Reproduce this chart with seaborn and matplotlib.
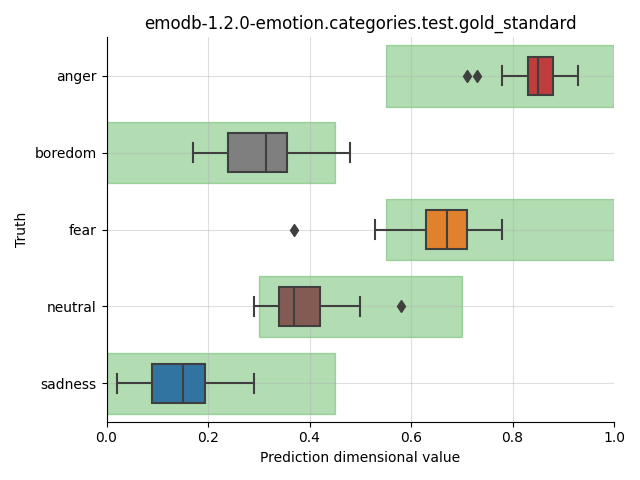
import numpy as np
import pandas as pd
import matplotlib
matplotlib.use('Agg')
import matplotlib.pyplot as plt
import seaborn as sns

# emotion categories (top to bottom)
categories = ['anger', 'boredom', 'fear', 'neutral', 'sadness']

# predicted dimensional values per true category
anger = [0.71, 0.73, 0.78, 0.83, 0.84, 0.845, 0.85, 0.86, 0.87, 0.88, 0.89, 0.91, 0.93]
boredom = [0.17, 0.20, 0.22, 0.24, 0.27, 0.29, 0.315, 0.33, 0.34, 0.355, 0.39, 0.43, 0.48]
fear = [0.37, 0.53, 0.58, 0.63, 0.65, 0.66, 0.67, 0.68, 0.70, 0.71, 0.73, 0.75, 0.78]
neutral = [0.29, 0.31, 0.33, 0.34, 0.35, 0.36, 0.37, 0.39, 0.40, 0.42, 0.45, 0.50, 0.58]
sadness = [0.02, 0.05, 0.07, 0.09, 0.11, 0.13, 0.15, 0.17, 0.18, 0.195, 0.22, 0.25, 0.29]

# expected range of each category on the dimension
range_low = [0.55, 0.0, 0.55, 0.3, 0.0]
range_high = [1.0, 0.45, 1.0, 0.7, 0.45]

colors = ['tab:red', 'tab:gray', 'tab:orange', 'tab:brown', 'tab:blue']

values = [anger, boredom, fear, neutral, sadness]
df = pd.DataFrame({
    'truth': [c for c, v in zip(categories, values) for _ in v],
    'pred': [x for v in values for x in v],
})

fig, ax = plt.subplots(figsize=(6.4, 4.8), dpi=100)

ax.barh(range(len(categories)),
        np.array(range_high) - np.array(range_low),
        left=range_low, height=0.8,
        color='tab:green', edgecolor='tab:green', alpha=0.36, linewidth=1)

sns.boxplot(data=df, x='pred', y='truth', hue='truth', order=categories,
            palette=dict(zip(categories, colors)), legend=False,
            width=0.5, linecolor='#3f3f3f', linewidth=1.5,
            flierprops=dict(marker='d', markerfacecolor='#3f3f3f',
                            markeredgecolor='#3f3f3f', markersize=6),
            ax=ax)

ax.set_xlim(0, 1)
ax.grid(alpha=0.4)
ax.set_title('emodb-1.2.0-emotion.categories.test.gold_standard')
ax.set_xlabel('Prediction dimensional value')
ax.set_ylabel('Truth')
sns.despine(ax=ax)
plt.tight_layout()
plt.savefig('out.png')
